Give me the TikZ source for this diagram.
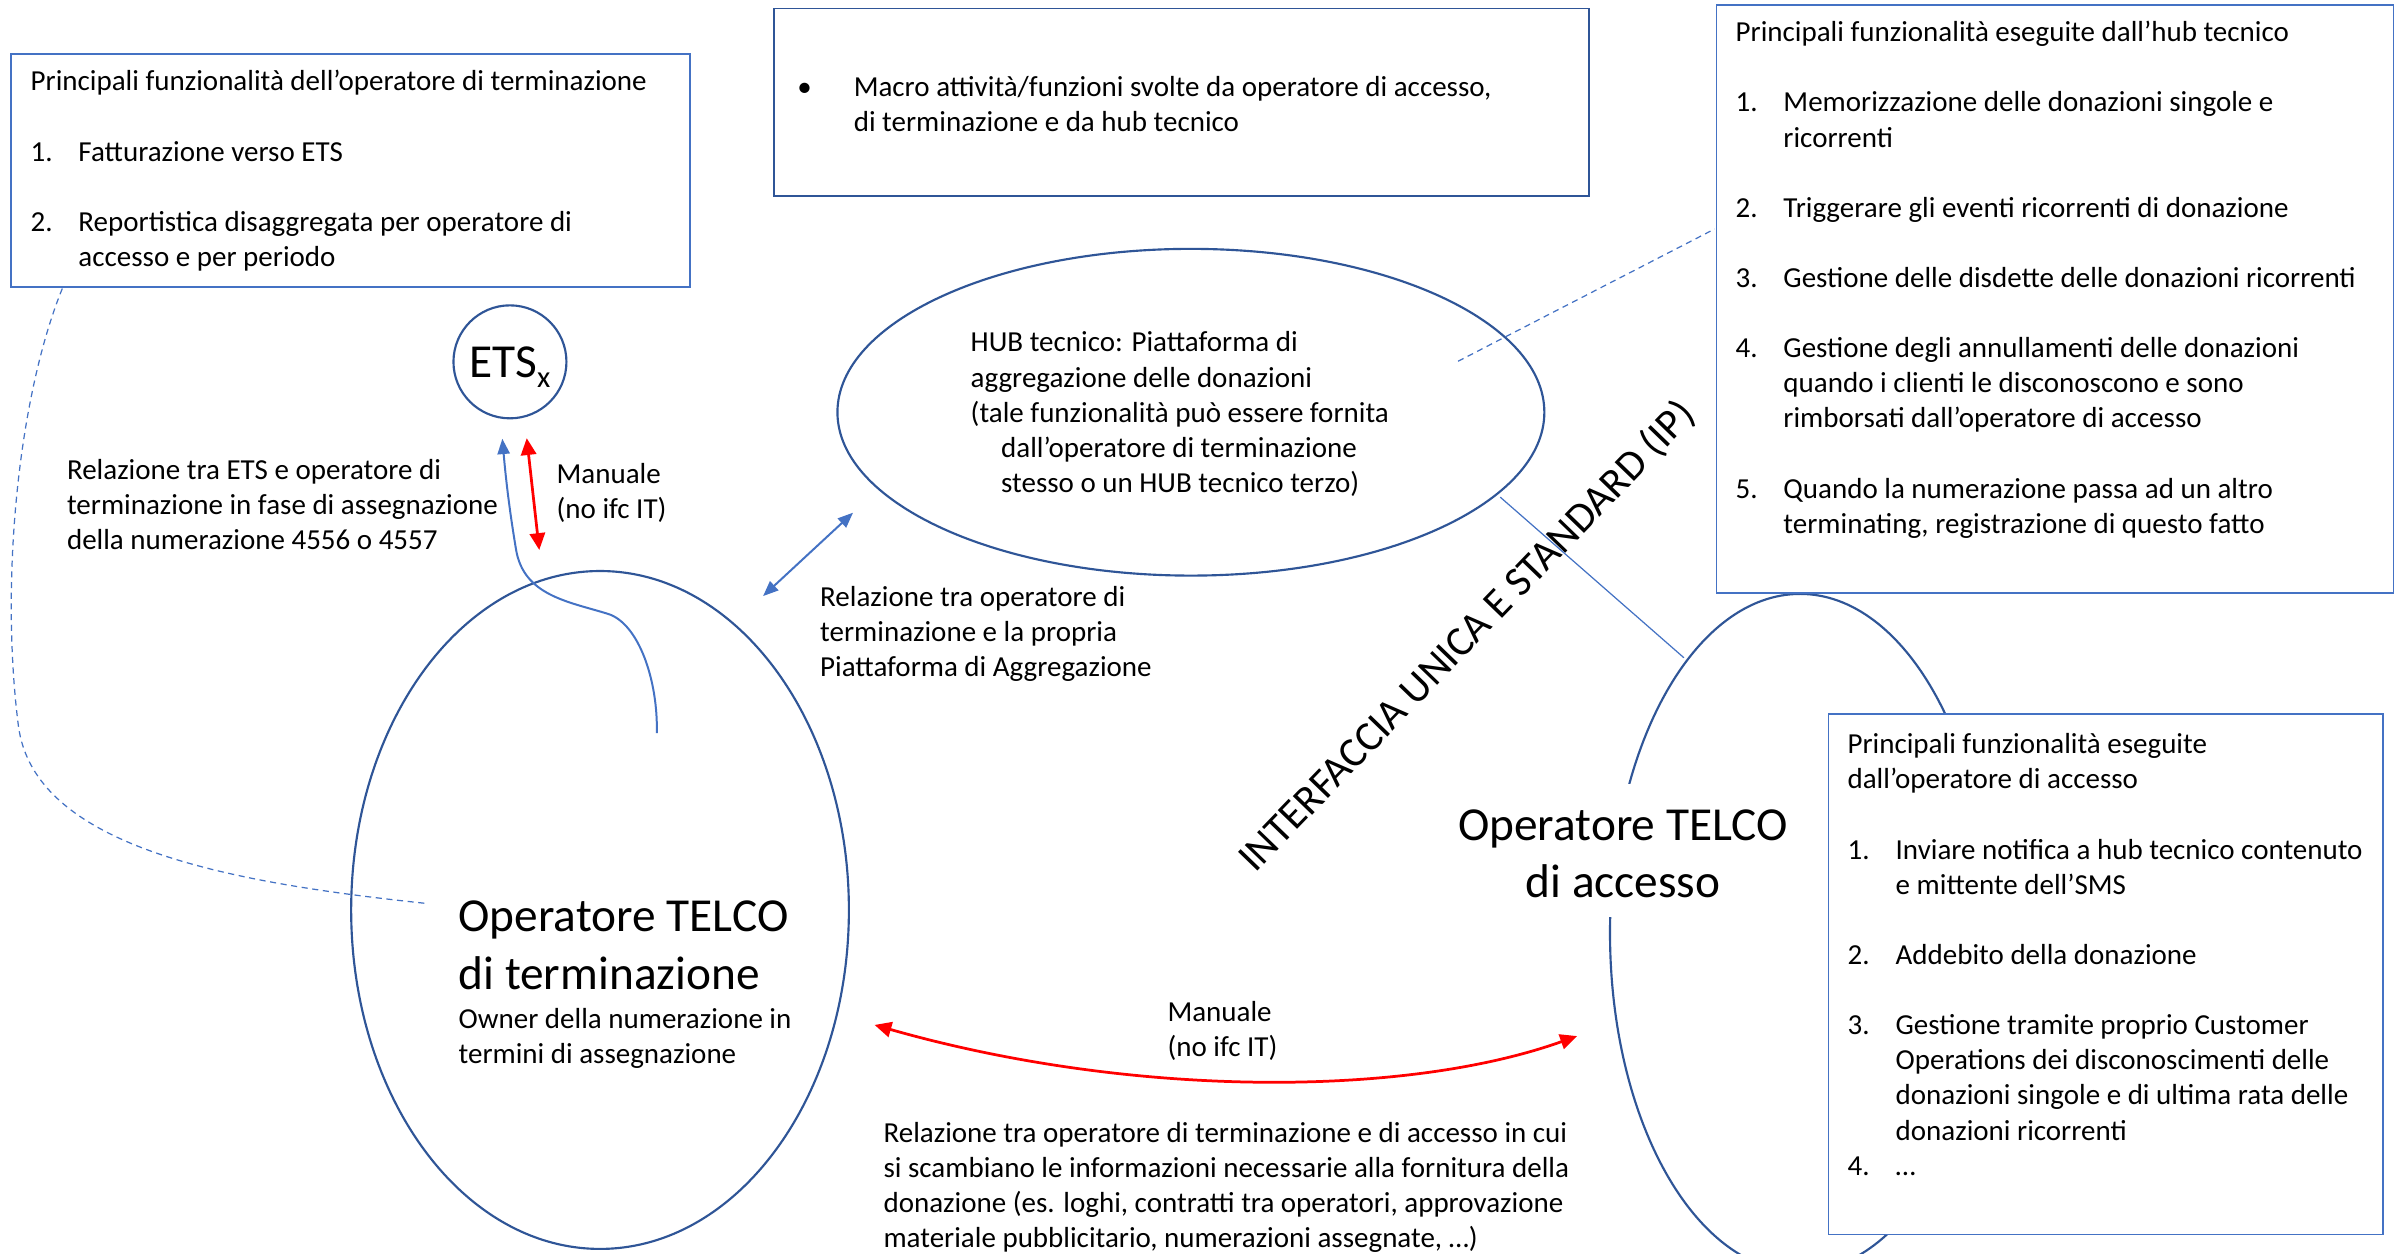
\documentclass[tikz,border=0pt]{standalone}
\usepackage{fontspec}
\setmainfont{Carlito}
\usetikzlibrary{shapes.geometric,arrows.meta}
\definecolor{dblue}{HTML}{2F5597}
\definecolor{lblue}{HTML}{4472C4}
\definecolor{ared}{HTML}{FF0000}
\newcommand\fsn{\fontsize{19}{23}\selectfont}
\newcommand\fsl{\fontsize{31}{37.5}\selectfont}
\newcommand\st{\rule{0pt}{15pt}}
\newcommand\stl{\rule{0pt}{24pt}}
\newcommand\ind[1]{\makebox[#1]{}}
\newcommand\num[2]{\makebox[#1][l]{#2}}
\begin{document}
\begin{tikzpicture}[x=1pt,y=-1pt,
  txt/.style={anchor=north west, inner sep=0pt, align=left, font=\fsn},
  panel/.style={draw=lblue, line width=1.2pt, fill=white, anchor=north west, inner sep=0pt},
  oval/.style={draw=dblue, line width=1.4pt, ellipse, inner sep=0pt},
  bluearrow/.style={draw=lblue, line width=1.3pt, {Triangle[length=10pt,width=8pt]}-{Triangle[length=10pt,width=8pt]}},
  redarrow/.style={draw=ared, line width=1.8pt, {Triangle[length=11pt,width=10pt]}-{Triangle[length=11pt,width=10pt]}},
  dashlink/.style={draw=lblue, line width=0.8pt, dash pattern=on 4pt off 3pt},
  thinlink/.style={draw=lblue, line width=0.8pt}]
\useasboundingbox (0,0) rectangle (1568,821);
\fill[white] (0,0) rectangle (1568,821);

% big shapes
\node[oval, minimum width=326pt, minimum height=444pt] (term) at (393,596) {};
\node[oval, minimum width=463pt, minimum height=214pt] (hub) at (780,270) {};
\node[oval, minimum width=249pt, minimum height=444pt] (acc) at (1179,611) {};
\node[draw=dblue, line width=1.4pt, circle, minimum size=74pt, inner sep=0pt, font=\fsl, text depth=0pt] (ets) at (334,237) {ETS\raisebox{-7pt}{\fontsize{20}{20}\selectfont x}};

% panels
\node[panel, minimum width=445pt, minimum height=152.5pt] (boxTL) at (6.5,35) {};
\node[panel, draw=dblue, minimum width=533.4pt, minimum height=123pt] (boxTC) at (506.6,5) {};
\node[panel, minimum width=443.4pt, minimum height=385.5pt] (boxTR) at (1123.6,2.5) {};
\node[panel, minimum width=363pt, minimum height=341pt] (boxBR) at (1197,467) {};

% panel texts
\node[txt] (tTL) at (19.9,44.4) {\st Principali funzionalità dell’operatore di terminazione\\[23pt]
\num{31.3pt}{1.}Fatturazione verso ETS\\[23pt]
\num{31.3pt}{2.}Reportistica disaggregata per operatore di\\
\ind{31.3pt}accesso e per periodo};

\node[txt] (tTC) at (522,48) {\st\num{37pt}{•}Macro attività/funzioni svolte da operatore di accesso,\\
\ind{37pt}di terminazione e da hub tecnico};

\node[txt] (tTR) at (1136.6,12.1) {\st Principali funzionalità eseguite dall’hub tecnico\\[23pt]
\num{31.3pt}{1.}Memorizzazione delle donazioni singole e\\
\ind{31.3pt}ricorrenti\\[23pt]
\num{31.3pt}{2.}Triggerare gli eventi ricorrenti di donazione\\[23pt]
\num{31.3pt}{3.}Gestione delle disdette delle donazioni ricorrenti\\[23pt]
\num{31.3pt}{4.}Gestione degli annullamenti delle donazioni\\
\ind{31.3pt}quando i clienti le disconoscono e sono\\
\ind{31.3pt}rimborsati dall’operatore di accesso\\[23pt]
\num{31.3pt}{5.}Quando la numerazione passa ad un altro\\
\ind{31.3pt}terminating, registrazione di questo fatto};

\node[txt] (tBR) at (1209.9,478.5) {\st Principali funzionalità eseguite\\
dall’operatore di accesso\\[23pt]
\num{31.5pt}{1.}Inviare notifica a hub tecnico contenuto\\
\ind{31.5pt}e mittente dell’SMS\\[23pt]
\num{31.5pt}{2.}Addebito della donazione\\[23pt]
\num{31.5pt}{3.}Gestione tramite proprio Customer\\
\ind{31.5pt}Operations dei disconoscimenti delle\\
\ind{31.5pt}donazioni singole e di ultima rata delle\\
\ind{31.5pt}donazioni ricorrenti\\
\num{31.5pt}{4.}…};

% ellipse texts
\node[txt] (hubtext) at (635.6,215.3) {\st HUB tecnico: Piattaforma di\\
aggregazione delle donazioni\\
(tale funzionalità può essere fornita\\
\hspace*{19.9pt}dall’operatore di terminazione\\
\hspace*{19.9pt}stesso o un HUB tecnico terzo)};

\node[txt, font=\fsl] (termtitle) at (300.2,586.2) {\stl Operatore TELCO\\di terminazione};
\node[txt] (termsub) at (300.2,658.5) {\st Owner della numerazione in\\termini di assegnazione};

\node[anchor=north, fill=white, inner xsep=3pt, inner ysep=13pt, align=center, font=\fsl] (acctitle) at (1063,513) {\stl Operatore TELCO\\di accesso};

% free labels
\node[txt] (lblets) at (43.7,299) {\st Relazione tra ETS e operatore di\\
terminazione in fase di assegnazione\\
della numerazione 4556 o 4557};
\node[txt] (manets) at (364.4,301.3) {\st Manuale\\(no ifc IT)};
\node[txt] (lblhub) at (537,382) {\st Relazione tra operatore di\\
terminazione e la propria\\
Piattaforma di Aggregazione};
\node[txt] (manacc) at (764.5,654) {\st Manuale\\(no ifc IT)};
\node[txt] (lblacc) at (578.5,732.8) {\st Relazione tra operatore di terminazione e di accesso in cui\\
si scambiano le informazioni necessarie alla fornitura della\\
donazione (es. loghi, contratti tra operatori, approvazione\\
materiale pubblicitario, numerazioni assegnate, …)};

\node[font=\fontsize{27.5}{27.5}\selectfont, rotate=46, inner sep=0pt] (iface) at (961,417) {INTERFACCIA UNICA E STANDARD (IP)};

% connector end points
\coordinate (wstart) at (430.2,480.2);
\coordinate (wend) at (329,287.4);
\coordinate (rets1) at (345,287);
\coordinate (rets2) at (353.2,360.2);
\coordinate (bh1) at (499.8,390.4);
\coordinate (bh2) at (558.7,335.8);
\coordinate (ra1) at (572.8,671.3);
\coordinate (ra2) at (1032.9,678.6);
\coordinate (d1a) at (40.8,189);
\coordinate (d1b) at (280,591.8);
\coordinate (d2a) at (955,236.6);
\coordinate (d2b) at (1123,150);
\coordinate (l1a) at (982.6,325.6);
\coordinate (l1b) at (1102.9,430.8);

% connectors
\draw[draw=lblue, line width=1.3pt, -{Triangle[length=10pt,width=8pt]}] (wstart) .. controls (431,445) and (418,408) .. (398,402) .. controls (372,394) and (343,390) .. (338,360) .. controls (333,330) and (331,310) .. (wend);
\draw[redarrow] (rets1) -- (rets2);
\draw[bluearrow] (bh1) -- (bh2);
\draw[redarrow] (ra1) .. controls (740,719) and (920,719) .. (ra2);
\draw[dashlink] (d1a) .. controls (12,260) and (0,380) .. (12,475) .. controls (22,555) and (150,578) .. (d1b);
\draw[dashlink] (d2a) -- (d2b);
\draw[thinlink] (l1a) -- (l1b);
\end{tikzpicture}
\end{document}
